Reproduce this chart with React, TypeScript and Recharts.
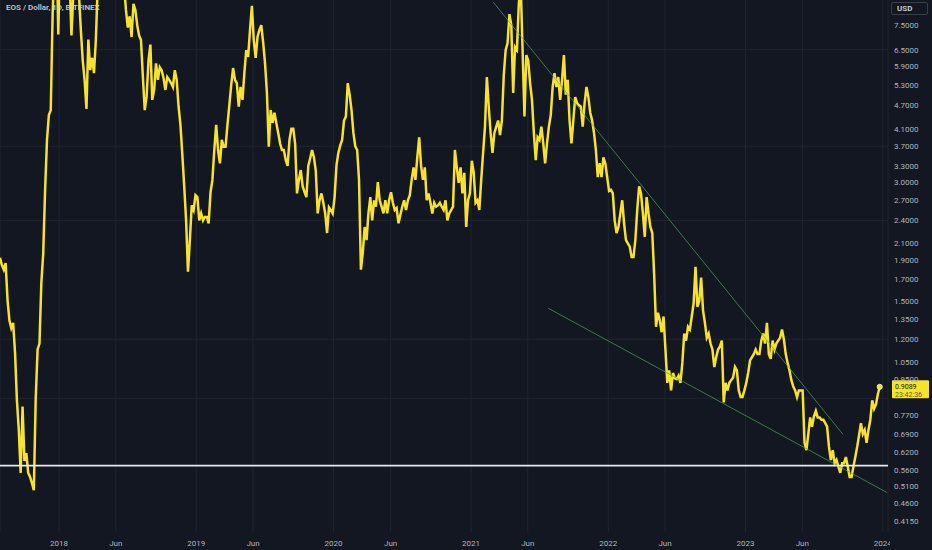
import React from 'react';
import { LineChart, Line, XAxis, YAxis, CartesianGrid, ReferenceLine } from 'recharts';

// ---- data (EOS / Dollar, 1D, BITFINEX), one close every 5 days ----
const START_DATE = '2017-07-28';
const STEP_DAYS = 5;
const closes: number[] = [
  1.93, 1.85, 1.80, 1.87, 1.51, 1.34, 1.28, 1.32, 1.11, 0.84,
  0.706, 0.55, 0.81, 0.59, 0.617, 0.55, 0.537, 0.518, 0.497, 0.85,
  1.13, 1.17, 1.67, 1.98, 2.87, 3.84, 4.44, 4.57, 8.0, 11,
  13, 7.1, 12, 16, 18, 14, 12, 10, 7.06, 9,
  10, 9.5, 9, 7.3, 6.12, 5.45, 4.6, 6.9, 5.77, 6.2,
  5.67, 6.9, 9.5, 13, 17, 20, 16, 14, 13, 14,
  12, 13, 11, 12, 10.5, 11, 9.5, 8.2, 7.4, 7.9,
  7.0, 8.5, 8.2, 7.5, 7.06, 6.88, 5.55, 4.57, 4.95, 6.1,
  6.7, 4.85, 5.14, 6.0, 5.45, 5.87, 5.77, 5.5, 5.14, 5.54,
  5.45, 5.35, 5.23, 5.77, 5.45, 4.66, 4.19, 3.52, 2.93, 2.4,
  1.78, 2.14, 2.62, 2.55, 2.78, 2.75, 2.4, 2.5, 2.4, 2.45,
  2.45, 2.36, 2.83, 3.04, 3.62, 4.19, 3.62, 3.35, 3.84, 3.69,
  3.69, 4.19, 4.7, 5.29, 5.84, 5.45, 5.35, 4.66, 5.23, 4.85,
  5.67, 6.49, 6.23, 7.29, 8.4, 6.88, 6.2, 7.0, 7.3, 7.5,
  6.77, 6.0, 5.05, 3.69, 4.57, 4.24, 4.5, 4.24, 4.0, 3.76,
  3.62, 3.62, 3.41, 3.3, 3.84, 4.1, 4.1, 3.76, 2.81, 3.04,
  3.22, 2.93, 2.83, 2.75, 3.3, 3.45, 3.62, 3.47, 3.2, 2.5,
  2.7, 2.81, 2.66, 2.5, 2.23, 2.59, 2.55, 2.5, 2.75, 3.31,
  3.56, 3.72, 3.84, 4.3, 4.4, 5.35, 5.0, 4.57, 4.0, 3.7,
  3.62, 3.04, 1.8, 1.99, 2.31, 2.14, 2.5, 2.75, 2.4, 2.7,
  2.6, 3.0, 2.7, 2.6, 2.5, 2.7, 2.5, 2.7, 2.83, 2.66,
  2.55, 2.58, 2.36, 2.48, 2.6, 2.7, 2.55, 2.7, 2.78, 3.04,
  3.27, 3.04, 3.47, 3.9, 3.3, 3.04, 3.27, 2.7, 2.81, 2.66,
  2.5, 2.66, 2.6, 2.62, 2.66, 2.6, 2.55, 2.7, 2.4, 2.5,
  2.55, 2.6, 3.62, 3.27, 2.99, 3.27, 2.81, 3.17, 2.31, 2.7,
  2.81, 3.4, 3.17, 2.66, 2.7, 2.55, 3.04, 3.56, 4.15, 5.54,
  4.66, 4.0, 3.56, 4.0, 4.15, 4.3, 3.95, 4.3, 5.6, 6.49,
  6.75, 8.0, 7.5, 5.05, 6.6, 6.49, 8.5, 9.5, 6.5, 4.4,
  6.3, 6.1, 5.35, 4.85, 4.0, 3.41, 3.9, 3.84, 4.15, 3.76,
  3.35, 3.76, 4.15, 4.44, 5.23, 5.67, 5.23, 5.54, 4.85, 5.45,
  6.3, 5.0, 5.45, 4.3, 3.76, 4.3, 4.93, 4.76, 4.7, 4.66,
  4.15, 4.76, 5.23, 4.93, 4.5, 4.3, 4.0, 3.62, 3.09, 3.35,
  3.09, 3.47, 3.35, 3.09, 2.85, 2.87, 2.81, 2.4, 2.23, 2.31,
  2.5, 2.7, 2.36, 2.14, 2.1, 2.06, 1.94, 1.94, 2.14, 2.55,
  2.93, 2.81, 2.5, 2.18, 2.75, 2.5, 2.31, 2.23, 1.75, 1.29,
  1.4, 1.34, 1.25, 1.37, 1.13, 0.93, 1.0, 0.89, 0.985, 0.955,
  0.95, 0.97, 0.93, 1.045, 1.24, 1.19, 1.29, 1.27, 1.37, 1.48,
  1.83, 1.45, 1.5, 1.72, 1.42, 1.32, 1.21, 1.24, 1.17, 1.13,
  1.02, 1.08, 1.13, 1.15, 1.19, 0.83, 0.93, 0.89, 0.93, 0.945,
  0.96, 1.02, 1.0, 0.89, 0.856, 0.856, 0.89, 0.93, 0.985, 1.06,
  1.08, 1.1, 1.13, 1.1, 1.1, 1.19, 1.24, 1.17, 1.32, 1.1,
  1.07, 1.19, 1.13, 1.17, 1.19, 1.21, 1.27, 1.2, 1.1, 1.045,
  1.0, 0.945, 0.91, 0.89, 0.856, 0.89, 0.89, 0.89, 0.655, 0.628,
  0.69, 0.76, 0.72, 0.765, 0.79, 0.76, 0.76, 0.75, 0.75, 0.735,
  0.72, 0.64, 0.593, 0.628, 0.582, 0.593, 0.57, 0.55, 0.582, 0.582,
  0.603, 0.57, 0.537, 0.537, 0.57, 0.603, 0.64, 0.685, 0.735, 0.69,
  0.706, 0.655, 0.706, 0.75, 0.84, 0.8, 0.82, 0.87, 0.9089,
];

// 0.8500 sits under the last-price tag in the reference, so it is not drawn as a label
const priceTicks: number[] = [
  7.5, 6.5, 5.9, 5.3, 4.7, 4.1, 3.7, 3.3, 3.0, 2.7, 2.4, 2.1, 1.9, 1.7, 1.5,
  1.35, 1.2, 1.05, 0.95, 0.77, 0.69, 0.62, 0.56, 0.51, 0.46, 0.415,
];
const gridPrices: number[] = [6.5, 3.7, 2.4, 1.2, 0.85];

const timeTickDates: string[] = [
  '2018-01-01', '2018-06-01', '2019-01-01', '2019-06-01', '2020-01-01', '2020-06-01',
  '2021-01-01', '2021-06-01', '2022-01-01', '2022-06-01', '2023-01-01', '2023-06-01', '2024-01-01',
];
const timeTickLabels: string[] = [
  '2018', 'Jun', '2019', 'Jun', '2020', 'Jun', '2021', 'Jun', '2022', 'Jun', '2023', 'Jun', '2024',
];

const supportLevel = 0.574;
const upperTrend = [
  { date: '2021-03-01', price: 8.58 },
  { date: '2023-09-17', price: 0.689 },
];
const lowerTrend = [
  { date: '2021-07-25', price: 1.438 },
  { date: '2024-01-12', price: 0.4906 },
];
const lastPrice = 0.9089;
const countdown = '23:42:36';
const titleText = 'EOS / Dollar, 1D, BITFINEX';
const currencyText = 'USD';

const X_DOMAIN_DATES = ['2017-07-28', '2024-01-15'];
const Y_DOMAIN: [number, number] = [0.3895, 8.688];

// ---- build ----
const DAY = 86400000;
const toMs = (d: string) => Date.parse(d + 'T00:00:00Z');
const startMs = toMs(START_DATE);
const dates = closes.map((_, i) => new Date(startMs + i * STEP_DAYS * DAY).toISOString().slice(0, 10));
const data = closes.map((c, i) => ({ t: toMs(dates[i]), close: c }));
const timeTicks = timeTickDates.map(toMs);
const labelFor = (ms: number) => {
  const idx = timeTicks.indexOf(ms);
  return idx >= 0 ? timeTickLabels[idx] : '';
};

const BG = '#131722';
const GRID = '#1f2431';
const TEXT = '#b2b5be';
const YELLOW = '#f7e231';
const FONT = 'Roboto, "Noto Sans", sans-serif';
const W = 932;
const H = 550;
const PLOT_RIGHT = 888;

const XTick = (props: any) => {
  const { x, y, payload, index } = props;
  return (
    <g>
      {index === 0 && (
        <defs>
          <clipPath id="xTickClip">
            <rect x={0} y={0} width={PLOT_RIGHT + 2} height={H} />
          </clipPath>
        </defs>
      )}
      <text
        x={x}
        y={y}
        dy="0.71em"
        textAnchor="middle"
        fill={TEXT}
        fontSize={8}
        fontFamily={FONT}
        clipPath="url(#xTickClip)"
      >
        {labelFor(payload.value)}
      </text>
    </g>
  );
};

const PriceTag = (props: any) => {
  const vb = props.viewBox || {};
  const x = (vb.x || 0) + (vb.width || 0) + 4;
  const y = vb.y || 0;
  return (
    <g>
      <rect x={x} y={y - 6.5} width={37} height={18} fill={YELLOW} rx={1} />
      <text x={x + 3} y={y + 2} fontSize={7} fontFamily={FONT} fill="#131722">
        {lastPrice.toFixed(4)}
      </text>
      <text x={x + 3} y={y + 10} fontSize={7} fontFamily={FONT} fill="#6b5f12">
        {countdown}
      </text>
    </g>
  );
};

const lastIndex = data.length - 1;
const renderDot = (props: any) => {
  const { cx, cy, index } = props;
  if (index !== lastIndex) return <g key={`d${index}`} />;
  return <circle key={`d${index}`} cx={cx} cy={cy} r={2.6} fill={YELLOW} stroke="#fff59d" strokeWidth={0.8} />;
};

export default function App() {
  return (
    <div style={{ position: 'fixed', left: 0, top: 0, width: W, height: H, background: BG, overflow: 'hidden' }}>
      <div
        style={{
          position: 'absolute', left: 6, top: 3, fontFamily: FONT, fontSize: 8, fontWeight: 600,
          color: '#c3c6ce', whiteSpace: 'nowrap', lineHeight: '10px',
        }}
      >
        {titleText}
      </div>
      <div style={{ position: 'absolute', left: 0, top: 0 }}>
        <LineChart width={W} height={H} data={data} margin={{ top: 0, right: 0, bottom: 0, left: 0 }}>
          <CartesianGrid vertical horizontal={false} stroke={GRID} strokeWidth={1} />
          {gridPrices.map((p) => (
            <ReferenceLine key={`g${p}`} y={p} stroke={GRID} strokeWidth={1} />
          ))}
          <XAxis
            dataKey="t"
            type="number"
            domain={X_DOMAIN_DATES.map(toMs)}
            allowDataOverflow
            ticks={timeTicks}
            interval={0}
            height={18}
            axisLine={false}
            tickLine={false}
            tickSize={8}
            tickMargin={0}
            tick={<XTick />}
          />
          <YAxis
            orientation="right"
            type="number"
            scale="log"
            domain={Y_DOMAIN}
            allowDataOverflow
            ticks={priceTicks}
            interval={0}
            width={W - PLOT_RIGHT}
            axisLine={false}
            tickLine={false}
            tickSize={6}
            tickMargin={0}
            tickFormatter={(v: number) => v.toFixed(4)}
            tick={{ fill: TEXT, fontSize: 8, fontFamily: FONT }}
          />
          <Line
            type="linear"
            dataKey="close"
            stroke={YELLOW}
            strokeWidth={2.5}
            dot={renderDot}
            activeDot={false}
            isAnimationActive={false}
          />
          <ReferenceLine
            segment={upperTrend.map((p) => ({ x: toMs(p.date), y: p.price }))}
            stroke="#4caf50"
            strokeOpacity={0.85}
            strokeWidth={0.8}
          />
          <ReferenceLine
            segment={lowerTrend.map((p) => ({ x: toMs(p.date), y: p.price }))}
            stroke="#4caf50"
            strokeOpacity={0.85}
            strokeWidth={0.8}
          />
          <ReferenceLine y={supportLevel} stroke="#e6e8ee" strokeWidth={1.7} />
          <ReferenceLine y={lastPrice} stroke="transparent" label={<PriceTag />} />
        </LineChart>
      </div>
      <div
        style={{
          position: 'absolute', left: 891, top: 2, width: 37, height: 13, boxSizing: 'border-box',
          border: '1px solid #3a3e4a', borderRadius: 2, fontFamily: FONT, fontSize: 8, fontWeight: 600,
          color: '#d1d4dc', lineHeight: '11px', paddingLeft: 5,
        }}
      >
        {currencyText}
      </div>
    </div>
  );
}
